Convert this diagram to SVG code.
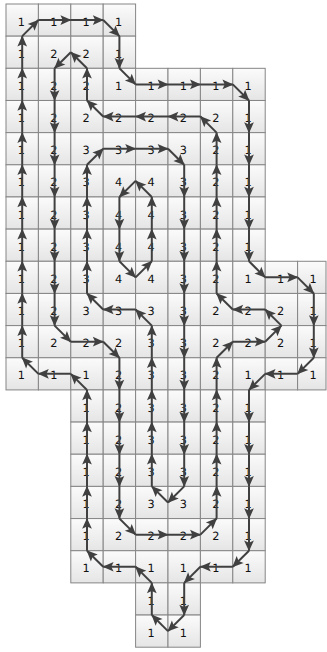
<svg xmlns="http://www.w3.org/2000/svg" width="327" height="652" viewBox="0 0 327 652">
<style>
rect{width:32.4px;height:32.16px;fill:url(#g);stroke:#858585;stroke-width:1px}
rect.e{width:28.4px}
text{font-family:"DejaVu Sans","Liberation Sans",sans-serif;font-size:11.3px;text-anchor:middle;fill:#111;text-rendering:geometricPrecision}
#connectors path{fill:none;stroke:#404040;stroke-width:2px;vector-effect:non-scaling-stroke;marker-end:url(#a)}
</style>
<defs>
<linearGradient id="g" x1="0" y1="0" x2="0" y2="1"><stop offset="0" stop-color="#fbfbfb"/><stop offset="1" stop-color="#e5e5e5"/></linearGradient>
<marker id="a" markerUnits="userSpaceOnUse" markerWidth="36" markerHeight="32" refX="32" refY="15" orient="auto" overflow="visible"><path d="M0 0L34 15L0 30L7 15Z" fill="#404040"/></marker>
</defs>
<g id="cells">
<g id="n0-0"><rect x="6" y="4"/><text x="21.4" y="25.6">1</text></g>
<g id="n0-1"><rect x="38.4" y="4"/><text x="53.8" y="25.6">1</text></g>
<g id="n0-2"><rect x="70.8" y="4"/><text x="86.2" y="25.6">1</text></g>
<g id="n0-3"><rect x="103.2" y="4"/><text x="118.6" y="25.6">1</text></g>
<g id="n1-0"><rect x="6" y="36.16"/><text x="21.4" y="57.7">1</text></g>
<g id="n1-1"><rect x="38.4" y="36.16"/><text x="53.8" y="57.7">2</text></g>
<g id="n1-2"><rect x="70.8" y="36.16"/><text x="86.2" y="57.7">2</text></g>
<g id="n1-3"><rect x="103.2" y="36.16"/><text x="118.6" y="57.7">1</text></g>
<g id="n2-0"><rect x="6" y="68.32"/><text x="21.4" y="89.9">1</text></g>
<g id="n2-1"><rect x="38.4" y="68.32"/><text x="53.8" y="89.9">2</text></g>
<g id="n2-2"><rect x="70.8" y="68.32"/><text x="86.2" y="89.9">2</text></g>
<g id="n2-3"><rect x="103.2" y="68.32"/><text x="118.6" y="89.9">1</text></g>
<g id="n2-4"><rect x="135.6" y="68.32"/><text x="151" y="89.9">1</text></g>
<g id="n2-5"><rect x="168" y="68.32"/><text x="183.4" y="89.9">1</text></g>
<g id="n2-6"><rect x="200.4" y="68.32"/><text x="215.8" y="89.9">1</text></g>
<g id="n2-7"><rect x="232.8" y="68.32"/><text x="248.2" y="89.9">1</text></g>
<g id="n3-0"><rect x="6" y="100.48"/><text x="21.4" y="122.1">1</text></g>
<g id="n3-1"><rect x="38.4" y="100.48"/><text x="53.8" y="122.1">2</text></g>
<g id="n3-2"><rect x="70.8" y="100.48"/><text x="86.2" y="122.1">2</text></g>
<g id="n3-3"><rect x="103.2" y="100.48"/><text x="118.6" y="122.1">2</text></g>
<g id="n3-4"><rect x="135.6" y="100.48"/><text x="151" y="122.1">2</text></g>
<g id="n3-5"><rect x="168" y="100.48"/><text x="183.4" y="122.1">2</text></g>
<g id="n3-6"><rect x="200.4" y="100.48"/><text x="215.8" y="122.1">2</text></g>
<g id="n3-7"><rect x="232.8" y="100.48"/><text x="248.2" y="122.1">1</text></g>
<g id="n4-0"><rect x="6" y="132.64"/><text x="21.4" y="154.2">1</text></g>
<g id="n4-1"><rect x="38.4" y="132.64"/><text x="53.8" y="154.2">2</text></g>
<g id="n4-2"><rect x="70.8" y="132.64"/><text x="86.2" y="154.2">3</text></g>
<g id="n4-3"><rect x="103.2" y="132.64"/><text x="118.6" y="154.2">3</text></g>
<g id="n4-4"><rect x="135.6" y="132.64"/><text x="151" y="154.2">3</text></g>
<g id="n4-5"><rect x="168" y="132.64"/><text x="183.4" y="154.2">3</text></g>
<g id="n4-6"><rect x="200.4" y="132.64"/><text x="215.8" y="154.2">2</text></g>
<g id="n4-7"><rect x="232.8" y="132.64"/><text x="248.2" y="154.2">1</text></g>
<g id="n5-0"><rect x="6" y="164.8"/><text x="21.4" y="186.4">1</text></g>
<g id="n5-1"><rect x="38.4" y="164.8"/><text x="53.8" y="186.4">2</text></g>
<g id="n5-2"><rect x="70.8" y="164.8"/><text x="86.2" y="186.4">3</text></g>
<g id="n5-3"><rect x="103.2" y="164.8"/><text x="118.6" y="186.4">4</text></g>
<g id="n5-4"><rect x="135.6" y="164.8"/><text x="151" y="186.4">4</text></g>
<g id="n5-5"><rect x="168" y="164.8"/><text x="183.4" y="186.4">3</text></g>
<g id="n5-6"><rect x="200.4" y="164.8"/><text x="215.8" y="186.4">2</text></g>
<g id="n5-7"><rect x="232.8" y="164.8"/><text x="248.2" y="186.4">1</text></g>
<g id="n6-0"><rect x="6" y="196.96"/><text x="21.4" y="218.6">1</text></g>
<g id="n6-1"><rect x="38.4" y="196.96"/><text x="53.8" y="218.6">2</text></g>
<g id="n6-2"><rect x="70.8" y="196.96"/><text x="86.2" y="218.6">3</text></g>
<g id="n6-3"><rect x="103.2" y="196.96"/><text x="118.6" y="218.6">4</text></g>
<g id="n6-4"><rect x="135.6" y="196.96"/><text x="151" y="218.6">4</text></g>
<g id="n6-5"><rect x="168" y="196.96"/><text x="183.4" y="218.6">3</text></g>
<g id="n6-6"><rect x="200.4" y="196.96"/><text x="215.8" y="218.6">2</text></g>
<g id="n6-7"><rect x="232.8" y="196.96"/><text x="248.2" y="218.6">1</text></g>
<g id="n7-0"><rect x="6" y="229.12"/><text x="21.4" y="250.7">1</text></g>
<g id="n7-1"><rect x="38.4" y="229.12"/><text x="53.8" y="250.7">2</text></g>
<g id="n7-2"><rect x="70.8" y="229.12"/><text x="86.2" y="250.7">3</text></g>
<g id="n7-3"><rect x="103.2" y="229.12"/><text x="118.6" y="250.7">4</text></g>
<g id="n7-4"><rect x="135.6" y="229.12"/><text x="151" y="250.7">4</text></g>
<g id="n7-5"><rect x="168" y="229.12"/><text x="183.4" y="250.7">3</text></g>
<g id="n7-6"><rect x="200.4" y="229.12"/><text x="215.8" y="250.7">2</text></g>
<g id="n7-7"><rect x="232.8" y="229.12"/><text x="248.2" y="250.7">1</text></g>
<g id="n8-0"><rect x="6" y="261.28"/><text x="21.4" y="282.9">1</text></g>
<g id="n8-1"><rect x="38.4" y="261.28"/><text x="53.8" y="282.9">2</text></g>
<g id="n8-2"><rect x="70.8" y="261.28"/><text x="86.2" y="282.9">3</text></g>
<g id="n8-3"><rect x="103.2" y="261.28"/><text x="118.6" y="282.9">4</text></g>
<g id="n8-4"><rect x="135.6" y="261.28"/><text x="151" y="282.9">4</text></g>
<g id="n8-5"><rect x="168" y="261.28"/><text x="183.4" y="282.9">3</text></g>
<g id="n8-6"><rect x="200.4" y="261.28"/><text x="215.8" y="282.9">2</text></g>
<g id="n8-7"><rect x="232.8" y="261.28"/><text x="248.2" y="282.9">1</text></g>
<g id="n8-8"><rect x="265.2" y="261.28"/><text x="280.6" y="282.9">1</text></g>
<g id="n8-9"><rect class="e" x="297.6" y="261.28"/><text x="313" y="282.9">1</text></g>
<g id="n9-0"><rect x="6" y="293.44"/><text x="21.4" y="315.1">1</text></g>
<g id="n9-1"><rect x="38.4" y="293.44"/><text x="53.8" y="315.1">2</text></g>
<g id="n9-2"><rect x="70.8" y="293.44"/><text x="86.2" y="315.1">3</text></g>
<g id="n9-3"><rect x="103.2" y="293.44"/><text x="118.6" y="315.1">3</text></g>
<g id="n9-4"><rect x="135.6" y="293.44"/><text x="151" y="315.1">3</text></g>
<g id="n9-5"><rect x="168" y="293.44"/><text x="183.4" y="315.1">3</text></g>
<g id="n9-6"><rect x="200.4" y="293.44"/><text x="215.8" y="315.1">2</text></g>
<g id="n9-7"><rect x="232.8" y="293.44"/><text x="248.2" y="315.1">2</text></g>
<g id="n9-8"><rect x="265.2" y="293.44"/><text x="280.6" y="315.1">2</text></g>
<g id="n9-9"><rect class="e" x="297.6" y="293.44"/><text x="313" y="315.1">1</text></g>
<g id="n10-0"><rect x="6" y="325.6"/><text x="21.4" y="347.2">1</text></g>
<g id="n10-1"><rect x="38.4" y="325.6"/><text x="53.8" y="347.2">2</text></g>
<g id="n10-2"><rect x="70.8" y="325.6"/><text x="86.2" y="347.2">2</text></g>
<g id="n10-3"><rect x="103.2" y="325.6"/><text x="118.6" y="347.2">2</text></g>
<g id="n10-4"><rect x="135.6" y="325.6"/><text x="151" y="347.2">3</text></g>
<g id="n10-5"><rect x="168" y="325.6"/><text x="183.4" y="347.2">3</text></g>
<g id="n10-6"><rect x="200.4" y="325.6"/><text x="215.8" y="347.2">2</text></g>
<g id="n10-7"><rect x="232.8" y="325.6"/><text x="248.2" y="347.2">2</text></g>
<g id="n10-8"><rect x="265.2" y="325.6"/><text x="280.6" y="347.2">2</text></g>
<g id="n10-9"><rect class="e" x="297.6" y="325.6"/><text x="313" y="347.2">1</text></g>
<g id="n11-0"><rect x="6" y="357.76"/><text x="21.4" y="379.4">1</text></g>
<g id="n11-1"><rect x="38.4" y="357.76"/><text x="53.8" y="379.4">1</text></g>
<g id="n11-2"><rect x="70.8" y="357.76"/><text x="86.2" y="379.4">1</text></g>
<g id="n11-3"><rect x="103.2" y="357.76"/><text x="118.6" y="379.4">2</text></g>
<g id="n11-4"><rect x="135.6" y="357.76"/><text x="151" y="379.4">3</text></g>
<g id="n11-5"><rect x="168" y="357.76"/><text x="183.4" y="379.4">3</text></g>
<g id="n11-6"><rect x="200.4" y="357.76"/><text x="215.8" y="379.4">2</text></g>
<g id="n11-7"><rect x="232.8" y="357.76"/><text x="248.2" y="379.4">1</text></g>
<g id="n11-8"><rect x="265.2" y="357.76"/><text x="280.6" y="379.4">1</text></g>
<g id="n11-9"><rect class="e" x="297.6" y="357.76"/><text x="313" y="379.4">1</text></g>
<g id="n12-2"><rect x="70.8" y="389.92"/><text x="86.2" y="411.6">1</text></g>
<g id="n12-3"><rect x="103.2" y="389.92"/><text x="118.6" y="411.6">2</text></g>
<g id="n12-4"><rect x="135.6" y="389.92"/><text x="151" y="411.6">3</text></g>
<g id="n12-5"><rect x="168" y="389.92"/><text x="183.4" y="411.6">3</text></g>
<g id="n12-6"><rect x="200.4" y="389.92"/><text x="215.8" y="411.6">2</text></g>
<g id="n12-7"><rect x="232.8" y="389.92"/><text x="248.2" y="411.6">1</text></g>
<g id="n13-2"><rect x="70.8" y="422.08"/><text x="86.2" y="443.7">1</text></g>
<g id="n13-3"><rect x="103.2" y="422.08"/><text x="118.6" y="443.7">2</text></g>
<g id="n13-4"><rect x="135.6" y="422.08"/><text x="151" y="443.7">3</text></g>
<g id="n13-5"><rect x="168" y="422.08"/><text x="183.4" y="443.7">3</text></g>
<g id="n13-6"><rect x="200.4" y="422.08"/><text x="215.8" y="443.7">2</text></g>
<g id="n13-7"><rect x="232.8" y="422.08"/><text x="248.2" y="443.7">1</text></g>
<g id="n14-2"><rect x="70.8" y="454.24"/><text x="86.2" y="475.9">1</text></g>
<g id="n14-3"><rect x="103.2" y="454.24"/><text x="118.6" y="475.9">2</text></g>
<g id="n14-4"><rect x="135.6" y="454.24"/><text x="151" y="475.9">3</text></g>
<g id="n14-5"><rect x="168" y="454.24"/><text x="183.4" y="475.9">3</text></g>
<g id="n14-6"><rect x="200.4" y="454.24"/><text x="215.8" y="475.9">2</text></g>
<g id="n14-7"><rect x="232.8" y="454.24"/><text x="248.2" y="475.9">1</text></g>
<g id="n15-2"><rect x="70.8" y="486.4"/><text x="86.2" y="508.1">1</text></g>
<g id="n15-3"><rect x="103.2" y="486.4"/><text x="118.6" y="508.1">2</text></g>
<g id="n15-4"><rect x="135.6" y="486.4"/><text x="151" y="508.1">3</text></g>
<g id="n15-5"><rect x="168" y="486.4"/><text x="183.4" y="508.1">3</text></g>
<g id="n15-6"><rect x="200.4" y="486.4"/><text x="215.8" y="508.1">2</text></g>
<g id="n15-7"><rect x="232.8" y="486.4"/><text x="248.2" y="508.1">1</text></g>
<g id="n16-2"><rect x="70.8" y="518.56"/><text x="86.2" y="540.2">1</text></g>
<g id="n16-3"><rect x="103.2" y="518.56"/><text x="118.6" y="540.2">2</text></g>
<g id="n16-4"><rect x="135.6" y="518.56"/><text x="151" y="540.2">2</text></g>
<g id="n16-5"><rect x="168" y="518.56"/><text x="183.4" y="540.2">2</text></g>
<g id="n16-6"><rect x="200.4" y="518.56"/><text x="215.8" y="540.2">2</text></g>
<g id="n16-7"><rect x="232.8" y="518.56"/><text x="248.2" y="540.2">1</text></g>
<g id="n17-2"><rect x="70.8" y="550.72"/><text x="86.2" y="572.4">1</text></g>
<g id="n17-3"><rect x="103.2" y="550.72"/><text x="118.6" y="572.4">1</text></g>
<g id="n17-4"><rect x="135.6" y="550.72"/><text x="151" y="572.4">1</text></g>
<g id="n17-5"><rect x="168" y="550.72"/><text x="183.4" y="572.4">1</text></g>
<g id="n17-6"><rect x="200.4" y="550.72"/><text x="215.8" y="572.4">1</text></g>
<g id="n17-7"><rect x="232.8" y="550.72"/><text x="248.2" y="572.4">1</text></g>
<g id="n18-4"><rect x="135.6" y="582.88"/><text x="151" y="604.6">1</text></g>
<g id="n18-5"><rect x="168" y="582.88"/><text x="183.4" y="604.6">1</text></g>
<g id="n19-4"><rect x="135.6" y="615.04"/><text x="151" y="636.7">1</text></g>
<g id="n19-5"><rect x="168" y="615.04"/><text x="183.4" y="636.7">1</text></g>
</g>
<g id="connectors" transform="translate(6,4) scale(0.324,0.3216)">
<path d="M50 100L100 50"/><path d="M100 50L200 50"/><path d="M200 50L300 50"/><path d="M300 50L350 100"/><path d="M350 100L350 200"/><path d="M350 200L400 250"/><path d="M400 250L500 250"/><path d="M500 250L600 250"/><path d="M600 250L700 250"/><path d="M700 250L750 300"/><path d="M750 300L750 400"/><path d="M750 400L750 500"/><path d="M750 500L750 600"/><path d="M750 600L750 700"/><path d="M750 700L750 800"/><path d="M750 800L800 850"/><path d="M800 850L900 850"/><path d="M900 850L950 900"/><path d="M950 900L950 1000"/><path d="M950 1000L950 1100"/><path d="M950 1100L900 1150"/><path d="M900 1150L800 1150"/><path d="M800 1150L750 1200"/><path d="M750 1200L750 1300"/><path d="M750 1300L750 1400"/><path d="M750 1400L750 1500"/><path d="M750 1500L750 1600"/><path d="M750 1600L750 1700"/><path d="M750 1700L700 1750"/><path d="M700 1750L600 1750"/><path d="M600 1750L550 1800"/><path d="M550 1800L550 1900"/><path d="M550 1900L500 1950"/><path d="M500 1950L450 1900"/><path d="M450 1900L450 1800"/><path d="M450 1800L400 1750"/><path d="M400 1750L300 1750"/><path d="M300 1750L250 1700"/><path d="M250 1700L250 1600"/><path d="M250 1600L250 1500"/><path d="M250 1500L250 1400"/><path d="M250 1400L250 1300"/><path d="M250 1300L250 1200"/><path d="M250 1200L200 1150"/><path d="M200 1150L100 1150"/><path d="M100 1150L50 1100"/><path d="M50 1100L50 1000"/><path d="M50 1000L50 900"/><path d="M50 900L50 800"/><path d="M50 800L50 700"/><path d="M50 700L50 600"/><path d="M50 600L50 500"/><path d="M50 500L50 400"/><path d="M50 400L50 300"/><path d="M50 300L50 200"/><path d="M50 200L50 100"/>
<path d="M200 150L150 200"/><path d="M150 200L150 300"/><path d="M150 300L150 400"/><path d="M150 400L150 500"/><path d="M150 500L150 600"/><path d="M150 600L150 700"/><path d="M150 700L150 800"/><path d="M150 800L150 900"/><path d="M150 900L150 1000"/><path d="M150 1000L200 1050"/><path d="M200 1050L300 1050"/><path d="M300 1050L350 1100"/><path d="M350 1100L350 1200"/><path d="M350 1200L350 1300"/><path d="M350 1300L350 1400"/><path d="M350 1400L350 1500"/><path d="M350 1500L350 1600"/><path d="M350 1600L400 1650"/><path d="M400 1650L500 1650"/><path d="M500 1650L600 1650"/><path d="M600 1650L650 1600"/><path d="M650 1600L650 1500"/><path d="M650 1500L650 1400"/><path d="M650 1400L650 1300"/><path d="M650 1300L650 1200"/><path d="M650 1200L650 1100"/><path d="M650 1100L700 1050"/><path d="M700 1050L800 1050"/><path d="M800 1050L850 1000"/><path d="M850 1000L800 950"/><path d="M800 950L700 950"/><path d="M700 950L650 900"/><path d="M650 900L650 800"/><path d="M650 800L650 700"/><path d="M650 700L650 600"/><path d="M650 600L650 500"/><path d="M650 500L650 400"/><path d="M650 400L600 350"/><path d="M600 350L500 350"/><path d="M500 350L400 350"/><path d="M400 350L300 350"/><path d="M300 350L250 300"/><path d="M250 300L250 200"/><path d="M250 200L200 150"/>
<path d="M250 500L300 450"/><path d="M300 450L400 450"/><path d="M400 450L500 450"/><path d="M500 450L550 500"/><path d="M550 500L550 600"/><path d="M550 600L550 700"/><path d="M550 700L550 800"/><path d="M550 800L550 900"/><path d="M550 900L550 1000"/><path d="M550 1000L550 1100"/><path d="M550 1100L550 1200"/><path d="M550 1200L550 1300"/><path d="M550 1300L550 1400"/><path d="M550 1400L550 1500"/><path d="M550 1500L500 1550"/><path d="M500 1550L450 1500"/><path d="M450 1500L450 1400"/><path d="M450 1400L450 1300"/><path d="M450 1300L450 1200"/><path d="M450 1200L450 1100"/><path d="M450 1100L450 1000"/><path d="M450 1000L400 950"/><path d="M400 950L300 950"/><path d="M300 950L250 900"/><path d="M250 900L250 800"/><path d="M250 800L250 700"/><path d="M250 700L250 600"/><path d="M250 600L250 500"/>
<path d="M400 550L350 600"/><path d="M350 600L350 700"/><path d="M350 700L350 800"/><path d="M350 800L400 850"/><path d="M400 850L450 800"/><path d="M450 800L450 700"/><path d="M450 700L450 600"/><path d="M450 600L400 550"/>
</g>
</svg>
